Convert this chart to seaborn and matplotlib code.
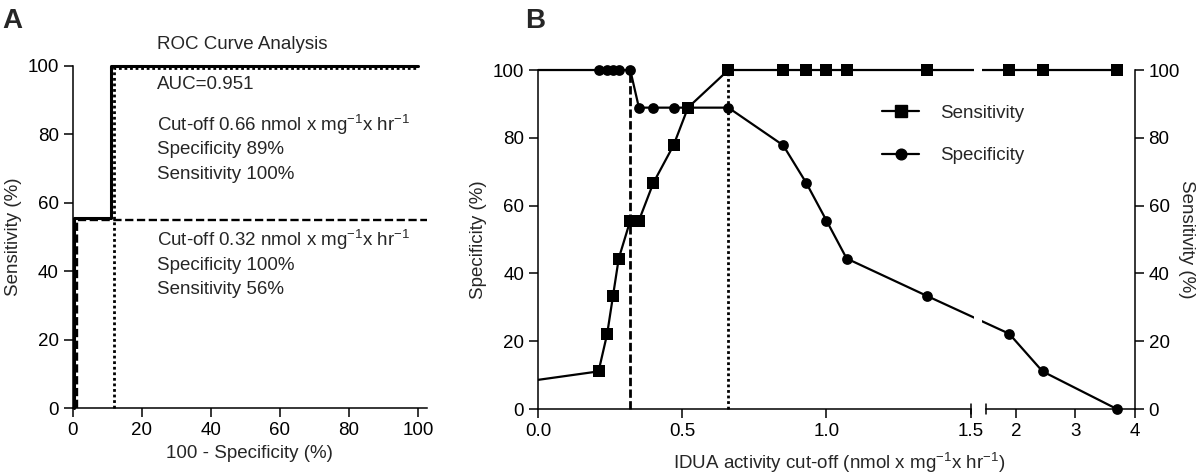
import numpy as np
import pandas as pd
import matplotlib
matplotlib.use("Agg")
import matplotlib.pyplot as plt
import matplotlib.transforms as mtransforms
from matplotlib.lines import Line2D
from matplotlib.patches import Rectangle
import seaborn as sns

# ---------------- data ----------------
# Panel A: ROC curves (100 - specificity, sensitivity)
roc_fpr = [0.5, 0.5, 11.1, 11.1, 100.0]
roc_tpr = [0.0, 55.6, 55.6, 100.0, 100.0]
cut032_fpr = [1.1, 1.1, 102.6]
cut032_tpr = [0.0, 55.0, 55.0]
cut066_fpr = [12.0, 12.0, 100.0]
cut066_tpr = [0.0, 99.2, 99.2]

# Panel B: sensitivity / specificity versus cut-off
cutoff = [0.21, 0.24, 0.26, 0.28, 0.32, 0.35, 0.40, 0.47, 0.52, 0.66,
          0.85, 0.93, 1.00, 1.07, 1.35, 1.89, 2.45, 3.70]
sensitivity = [11.1, 22.2, 33.3, 44.4, 55.6, 55.6, 66.7, 77.8, 88.9, 100,
               100, 100, 100, 100, 100, 100, 100, 100]
specificity = [100, 100, 100, 100, 100, 88.9, 88.9, 88.9, 88.9, 88.9,
               77.8, 66.7, 55.6, 44.4, 33.3, 22.2, 11.1, 0]
lead_x = [0.0]
lead_sens = [8.6]
lead_spec = [100.0]
chosen_cutoffs = [0.32, 0.66]

ticks_pct = [0, 20, 40, 60, 80, 100]
ticks_b1 = [0.0, 0.5, 1.0, 1.5]
ticks_b1_lab = ["0.0", "0.5", "1.0", "1.5"]
ticks_b2 = [2, 3, 4]

# ---------------- style ----------------
sns.set_style("ticks")
plt.rcParams["font.family"] = ["Liberation Sans", "DejaVu Sans"]
plt.rcParams["mathtext.fontset"] = "custom"
plt.rcParams["mathtext.rm"] = "Liberation Sans"
plt.rcParams["mathtext.it"] = "Liberation Sans:italic"
plt.rcParams["mathtext.default"] = "regular"
FS = 13.5

fig = plt.figure(figsize=(12, 4.75), dpi=100)


def style_axis(ax):
    ax.tick_params(axis="both", length=6.5, width=1.1, labelsize=FS, color="black",
                   labelcolor="black", direction="out")
    for s in ax.spines.values():
        s.set_linewidth(1.1)
        s.set_color("black")


# ---------------- Panel A ----------------
axA = fig.add_axes([0.0606, 0.1404, 0.2952, 0.7213])
sns.lineplot(x=roc_fpr, y=roc_tpr, ax=axA, color="black", lw=2.2, sort=False,
             estimator=None, clip_on=False)
sns.lineplot(x=cut032_fpr, y=cut032_tpr, ax=axA, color="black", lw=1.7, sort=False,
             estimator=None, clip_on=False, linestyle=(0, (3.5, 1.5)))
sns.lineplot(x=cut066_fpr, y=cut066_tpr, ax=axA, color="black", lw=2.0, sort=False,
             estimator=None, clip_on=False, linestyle=(0, (1, 1)))
axA.set_xlim(0, 102.6)
axA.set_ylim(0, 100)
axA.set_xticks(ticks_pct)
axA.set_yticks(ticks_pct)
sns.despine(ax=axA)
style_axis(axA)
axA.set_xlabel("100 - Specificity (%)", fontsize=FS, labelpad=4)
axA.set_ylabel("Sensitivity (%)", fontsize=FS, labelpad=4)

axA.text(24.4, 106.3, "ROC Curve Analysis", fontsize=FS, va="center", ha="left")
axA.text(24.4, 94.4, "AUC=0.951", fontsize=FS, va="center", ha="left")
axA.text(24.4, 82.7, "Cut-off 0.66 nmol x mg$^{-1}$x hr$^{-1}$", fontsize=FS,
         va="center", ha="left")
axA.text(24.4, 75.4, "Specificity 89%", fontsize=FS, va="center", ha="left")
axA.text(24.4, 68.1, "Sensitivity 100%", fontsize=FS, va="center", ha="left")
axA.text(24.4, 49.1, "Cut-off 0.32 nmol x mg$^{-1}$x hr$^{-1}$", fontsize=FS,
         va="center", ha="left")
axA.text(24.4, 41.8, "Specificity 100%", fontsize=FS, va="center", ha="left")
axA.text(24.4, 34.6, "Sensitivity 56%", fontsize=FS, va="center", ha="left")

# ---------------- Panel B (broken x axis) ----------------
B_LEFT, B_BOTTOM, B_HEIGHT = 0.4483, 0.1389, 0.7137
W1, GAP, W2 = 0.3606, 0.0128, 0.1239       # figure fractions
BREAK, XMAX = 1.5, 4.0
r2 = (W2 / (XMAX - BREAK)) / (W1 / BREAK)   # scale ratio of second segment
g = GAP / (W1 / BREAK)                      # gap in first-segment units


def fwd(x):
    x = np.asarray(x, dtype=float)
    return np.where(x <= BREAK, x, BREAK + g + (x - BREAK) * r2)


def inv(u):
    u = np.asarray(u, dtype=float)
    return np.where(u <= BREAK, u, BREAK + (u - BREAK - g) / r2)


ax1 = fig.add_axes([B_LEFT, B_BOTTOM, W1, B_HEIGHT])
ax2 = fig.add_axes([B_LEFT + W1 + GAP, B_BOTTOM, W2, B_HEIGHT])
axd = fig.add_axes([B_LEFT, B_BOTTOM, W1 + GAP + W2, B_HEIGHT], zorder=5)
axd.patch.set_visible(False)
axd.set_xscale("function", functions=(fwd, inv))
axd.set_xlim(0, XMAX)
axd.set_ylim(0, 100)

spec_df = pd.DataFrame({"x": lead_x + cutoff, "y": lead_spec + specificity})
sens_df = pd.DataFrame({"x": lead_x + cutoff, "y": lead_sens + sensitivity})
pts = pd.DataFrame({"x": cutoff, "sens": sensitivity, "spec": specificity})

axd.vlines(chosen_cutoffs[:1], 0, 100, colors="black", lw=2.0,
           linestyles=[(0, (3, 1.2))])
axd.vlines(chosen_cutoffs[1:], 0, 100, colors="black", lw=2.0,
           linestyles=[(0, (1, 1))])
sns.lineplot(data=spec_df, x="x", y="y", ax=axd, color="black", lw=1.6,
             sort=False, estimator=None)
sns.scatterplot(data=pts, x="x", y="spec", ax=axd, color="black", marker="o",
                s=60, linewidth=0, zorder=3)
sns.lineplot(data=sens_df, x="x", y="y", ax=axd, color="black", lw=1.6,
             sort=False, estimator=None)
sns.scatterplot(data=pts, x="x", y="sens", ax=axd, color="black", marker="s",
                s=74, linewidth=0, zorder=4)
axd.set_xlim(0, XMAX)
axd.set_ylim(0, 100)
axd.set_axis_off()
bb = mtransforms.TransformedBbox(mtransforms.Bbox([[0, -0.05], [1, 1.05]]),
                                 axd.transAxes)
for art in list(axd.lines) + list(axd.collections):
    art.set_clip_path(None)
    art.set_clip_box(bb)

# white gap where the data lines cross the axis break
gap_c = (BREAK + g / 2) / float(fwd(XMAX))
gap_w = 0.0134
axd.add_patch(Rectangle((gap_c - gap_w / 2, 0.01), gap_w, 1.005,
                        transform=axd.transAxes, facecolor="white",
                        edgecolor="none", zorder=2.5, clip_on=False))

for ax in (ax1, ax2):
    ax.set_ylim(0, 100)
    ax.set_yticks(ticks_pct)
    style_axis(ax)

ax1.set_xlim(0, BREAK)
ax1.set_xticks(ticks_b1)
ax1.set_xticklabels(ticks_b1_lab)
for side in ("top", "right"):
    ax1.spines[side].set_visible(False)
ax1.set_ylabel("Specificity (%)", fontsize=FS, labelpad=4)

ax2.set_xlim(BREAK, XMAX)
ax2.set_xticks(ticks_b2)
for side in ("top", "left"):
    ax2.spines[side].set_visible(False)
ax2.yaxis.tick_right()
ax2.yaxis.set_label_position("right")
ax2.set_ylabel("Sensitivity (%)", fontsize=FS, rotation=270, labelpad=11)

# break marks
ax1.axvline(BREAK, ymin=-0.016, ymax=0.016, color="black", lw=1.1, clip_on=False)
ax2.axvline(BREAK, ymin=-0.016, ymax=0.016, color="black", lw=1.1, clip_on=False)

fig.text(0.6992, 1 - 463 / 475, "IDUA activity cut-off (nmol x mg$^{-1}$x hr$^{-1}$)",
         fontsize=FS, ha="center", va="center")

handles = [
    Line2D([], [], color="black", lw=1.6, marker="s", markersize=8.6),
    Line2D([], [], color="black", lw=1.6, marker="o", markersize=7.7),
]
fig.legend(handles, ["Sensitivity", "Specificity"], loc="upper left",
           bbox_to_anchor=(0.7348, 0.78), frameon=False, borderpad=0,
           borderaxespad=0, handlelength=2.0, handletextpad=1.1,
           labelspacing=1.35, fontsize=FS)

fig.text(0.002, 0.956, "A", fontsize=20, fontweight="bold", va="center", ha="left")
fig.text(0.4375, 0.956, "B", fontsize=20, fontweight="bold", va="center", ha="left")

fig.savefig("out.png", dpi=100)
